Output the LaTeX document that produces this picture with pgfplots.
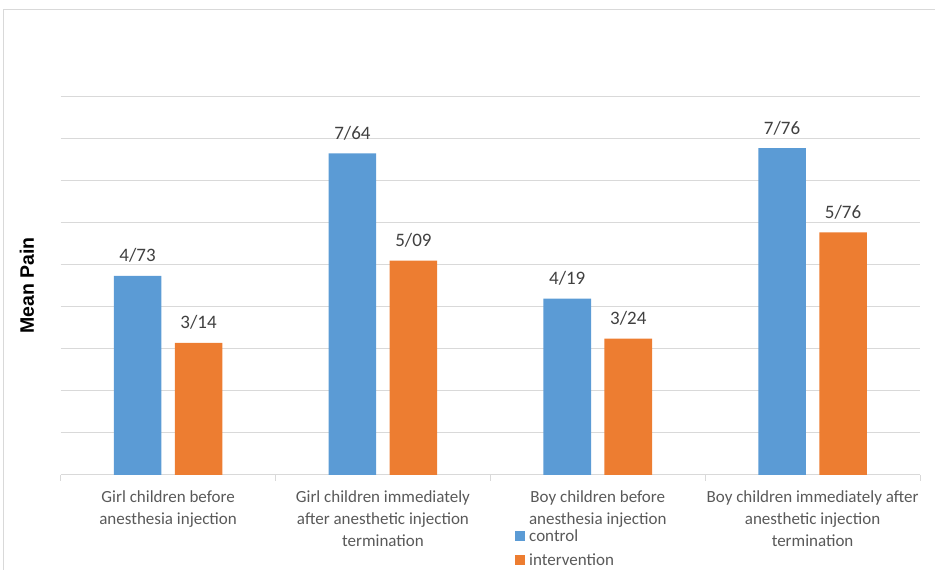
\documentclass[border=0pt]{standalone}
\usepackage{pgfplots}
\pgfplotsset{compat=1.18}
\usepackage{fontspec}
\setmainfont{Carlito}
\newfontfamily\arialfont{Liberation Sans}
\definecolor{cblue}{HTML}{5B9BD5}
\definecolor{corange}{HTML}{ED7D31}
\definecolor{gridgray}{HTML}{D9D9D9}
\definecolor{txtgray}{HTML}{595959}
\definecolor{lblgray}{HTML}{404040}
\begin{document}
\begin{tikzpicture}[x=1pt,y=1pt]
\useasboundingbox (0,0) rectangle (935,570);
\draw[gridgray, line width=1pt] (3,-10) -- (3,560) -- (945,560);
\begin{axis}[
  at={(60.7pt,95pt)}, anchor=south west,
  scale only axis, width=859.3pt, height=379pt,
  xmin=-0.5, xmax=3.5, ymin=0, ymax=9,
  ybar, bar width=47.6pt,
  axis line style={draw=none},
  ytick={0,1,...,9}, yticklabels={},
  ymajorgrids, grid style={gridgray, line width=1pt},
  major tick length=0pt,
  xtick={0,1,2,3},
  xticklabels={Girl children before\\anesthesia injection,
               Girl children immediately\\after anesthetic injection\\termination,
               Boy children before\\anesthesia injection,
               Boy children immediately after\\anesthetic injection\\termination},
  xticklabel style={align=center, font=\fontsize{17}{22}\selectfont, text=txtgray, yshift=-12pt},
  extra x ticks={-0.5,0.5,1.5,2.5,3.5},
  extra x tick labels={},
  extra x tick style={major tick length=6pt, tick align=outside, xtick pos=bottom, grid=none, tick style={draw=gridgray, line width=1pt}},
  ylabel={Mean Pain},
  ylabel style={at={(axis description cs:-0.0392,0.5)}, anchor=center, font=\arialfont\bfseries\fontsize{19.5}{22}\selectfont, text=black},
  nodes near coords={\pgfplotspointmeta},
  point meta=explicit symbolic,
  every node near coord/.append style={anchor=base, yshift=14pt, inner sep=0pt, font=\fontsize{19}{21}\selectfont, text=lblgray},
  legend style={at={(0.5287,-0.138)}, anchor=north west, draw=none, fill=none,
     font=\fontsize{17}{20}\selectfont, text=txtgray, row sep=7pt, inner sep=0pt,
     nodes={inner xsep=4pt}},
  legend cell align=left,
  legend image code/.code={\fill[#1, draw=none] (0pt,-5pt) rectangle (10pt,5pt);},
]
\addplot[fill=cblue, draw=none, bar shift=-30.5pt] coordinates {(0,4.73) [4/73] (1,7.64) [7/64] (2,4.19) [4/19] (3,7.76) [7/76]};
\addplot[fill=corange, draw=none, bar shift=30.5pt] coordinates {(0,3.14) [3/14] (1,5.09) [5/09] (2,3.24) [3/24] (3,5.76) [5/76]};
\legend{control, intervention}
\end{axis}
\end{tikzpicture}
\end{document}
